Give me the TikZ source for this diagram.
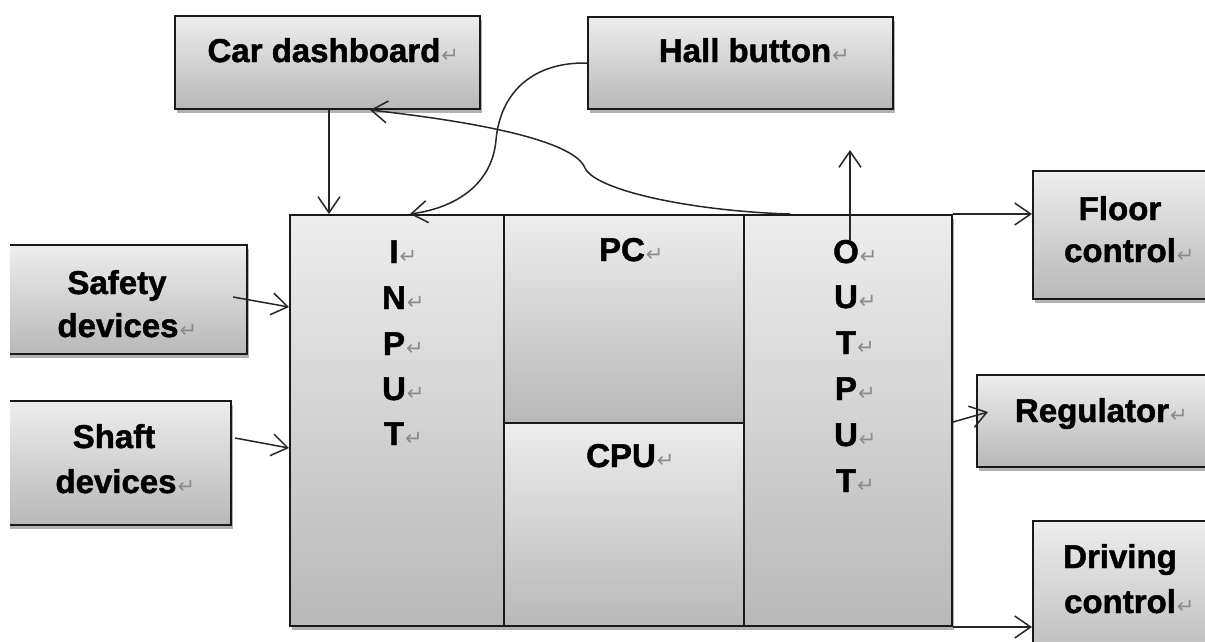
\documentclass[tikz,border=0pt]{standalone}
\usepackage{fontspec}
\setmainfont{Liberation Sans}[BoldFeatures={FakeBold=1.4}]
\newfontfamily\pmfont{DejaVu Sans}
\usetikzlibrary{arrows.meta,shadows}
\definecolor{gtop}{RGB}{237,237,237}
\definecolor{gbot}{RGB}{184,184,184}
\definecolor{pmgray}{RGB}{140,140,140}
\newcommand\pmk{\rlap{\kern1pt\fontsize{21}{21}\pmfont\mdseries\textcolor{pmgray}{↵}}}
\begin{document}
\begin{tikzpicture}[x=1pt,y=-1pt,
  box/.style={draw=black!90, line width=2pt, top color=gtop, bottom color=gbot,
    rectangle, anchor=north west, inner sep=0pt,
    drop shadow={shadow xshift=1.5pt, shadow yshift=-4pt, opacity=0.3, fill=black}},
  lbl/.style={anchor=base, inner sep=0pt, font=\fontsize{33}{40}\selectfont\bfseries},
  arr/.style={-{Straight Barb[length=16pt,width=22pt]}, line width=1.5pt, black!85},
]
\useasboundingbox (0,0) rectangle (1205,641);
\clip (10,-20) rectangle (1205,641);

% boxes
\node[box, minimum width=305pt, minimum height=93pt]  (cd)  at (174,15)  {};
\node[box, minimum width=305pt, minimum height=92pt]  (hb)  at (587,16)  {};
\node[box, minimum width=256pt, minimum height=109pt] (sd)  at (-10,244) {};
\node[box, minimum width=240pt, minimum height=124pt] (sh)  at (-10,400) {};
\node[box, minimum width=214pt, minimum height=411pt] (in)  at (289,214) {};
\node[box, minimum width=240pt, minimum height=208pt] (pc)  at (503,214) {};
\node[box, minimum width=240pt, minimum height=203pt] (cpu) at (503,422) {};
\node[box, minimum width=208pt, minimum height=411pt] (out) at (743,214) {};
\node[box, minimum width=200pt, minimum height=128pt] (fc)  at (1032,170) {};
\node[box, minimum width=260pt, minimum height=92pt]  (rg)  at (976,374) {};
\node[box, minimum width=200pt, minimum height=150pt] (dc)  at (1032,520) {};

% labels
\node[lbl] (tcd) at (324,62) {Car dashboard\pmk};
\node[lbl] (thb) at (745,62) {Hall button\pmk};
\node[lbl] (tsd1) at (117,294) {Safety};
\node[lbl] (tsd2) at (118,337) {devices\pmk};
\node[lbl] (tsh1) at (114,448) {Shaft};
\node[lbl] (tsh2) at (116,493) {devices\pmk};
\node[lbl] (i1) at (394,263) {I\pmk};
\node[lbl] (i2) at (394,309) {N\pmk};
\node[lbl] (i3) at (394,355) {P\pmk};
\node[lbl] (i4) at (394,400) {U\pmk};
\node[lbl] (i5) at (394,445) {T\pmk};
\node[lbl] (tpc) at (622,261) {PC\pmk};
\node[lbl] (tcpu) at (621,467) {CPU\pmk};
\node[lbl] (o1) at (846,263) {O\pmk};
\node[lbl] (o2) at (846,308) {U\pmk};
\node[lbl] (o3) at (846,354) {T\pmk};
\node[lbl] (o4) at (846,400) {P\pmk};
\node[lbl] (o5) at (846,446) {U\pmk};
\node[lbl] (o6) at (846,492) {T\pmk};
\node[lbl] (tfc1) at (1120,220) {Floor};
\node[lbl] (tfc2) at (1120,262) {control\pmk};
\node[lbl] (trg) at (1092,422) {Regulator\pmk};
\node[lbl] (tdc1) at (1120,568) {Driving};
\node[lbl] (tdc2) at (1120,613) {control\pmk};

% helper coordinates
\coordinate (c1) at (329,0);
\coordinate (c2) at (410,0);
\coordinate (c3) at (370,0);
\coordinate (kink) at (585,168);
\coordinate (upend) at (850,150);
\coordinate (sa) at (233,297);
\coordinate (sb) at (0,307);
\coordinate (ha) at (235,438);
\coordinate (hb2) at (0,448);
\coordinate (ra) at (0,422);
\coordinate (rb) at (988,412);

% connectors
\draw[arr] (cd.south -| c1) -- (in.north -| c1);
\draw[arr] (hb.west) .. controls (530,62) and (500,95) .. (496,140)
  .. controls (492,185) and (455,208) .. (in.north -| c2);
\draw[arr] ([xshift=47pt]out.north west) .. controls (690,211) and (595,190) .. (kink)
  .. controls (578,150) and (530,128) .. (cd.south -| c3);
\draw[arr] (out.north east) -- (out.north east -| fc.west);
\draw[arr] (o1.north -| upend) -- (upend);
\draw[arr] (sa) -- (in.west |- sb);
\draw[arr] (ha) -- (in.west |- hb2);
\draw[arr] (out.east |- ra) -- (rb);
\draw[arr] (out.south east) -- (out.south east -| dc.west);
\end{tikzpicture}
\end{document}
